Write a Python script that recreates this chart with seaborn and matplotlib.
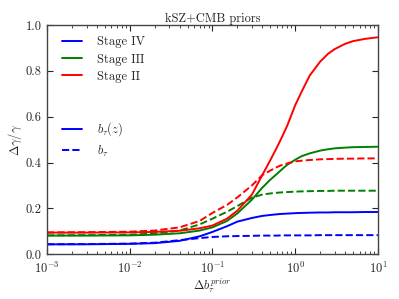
import matplotlib
matplotlib.use("Agg")
import matplotlib.pyplot as plt
import seaborn as sns
import pandas as pd

# prior width on b_tau
prior = [1e-3, 3e-3, 1e-2, 2e-2, 4e-2, 7e-2, 0.1, 0.15, 0.2, 0.3, 0.4,
         0.5, 0.6, 0.7, 0.8, 1.0, 1.2, 1.5, 2.0, 2.5, 3.0, 4.0, 5.0, 7.0, 10.0]

# Delta gamma / gamma, b_tau(z) (solid) and b_tau (dashed)
stage4_z = [0.043, 0.043, 0.045, 0.048, 0.058, 0.078, 0.097, 0.122, 0.142, 0.158,
            0.167, 0.171, 0.174, 0.176, 0.177, 0.179, 0.180, 0.181, 0.182, 0.182,
            0.183, 0.183, 0.183, 0.184, 0.184]
stage4_c = [0.043, 0.044, 0.046, 0.050, 0.061, 0.070, 0.075, 0.078, 0.079, 0.080,
            0.081, 0.081, 0.081, 0.082, 0.082, 0.082, 0.082, 0.082, 0.083, 0.083,
            0.083, 0.083, 0.083, 0.083, 0.083]
stage3_z = [0.081, 0.081, 0.082, 0.085, 0.091, 0.103, 0.117, 0.145, 0.178, 0.238,
            0.290, 0.325, 0.350, 0.372, 0.390, 0.412, 0.428, 0.440, 0.452, 0.458,
            0.462, 0.465, 0.467, 0.468, 0.469]
stage3_c = [0.082, 0.083, 0.085, 0.090, 0.103, 0.130, 0.155, 0.185, 0.210, 0.247,
            0.260, 0.265, 0.268, 0.270, 0.271, 0.273, 0.274, 0.275, 0.276, 0.276,
            0.277, 0.277, 0.277, 0.277, 0.277]
stage2_z = [0.094, 0.094, 0.095, 0.097, 0.102, 0.113, 0.125, 0.155, 0.190, 0.260,
            0.345, 0.410, 0.465, 0.515, 0.560, 0.650, 0.710, 0.780, 0.840, 0.875,
            0.895, 0.918, 0.930, 0.940, 0.947]
stage2_c = [0.095, 0.096, 0.098, 0.103, 0.117, 0.145, 0.180, 0.215, 0.248, 0.300,
            0.345, 0.365, 0.380, 0.390, 0.396, 0.405, 0.408, 0.411, 0.414, 0.415,
            0.416, 0.417, 0.417, 0.418, 0.418]

sns.set_style("ticks")
plt.rcParams['font.family'] = 'serif'
plt.rcParams['font.serif'] = ['cmr10', 'DejaVu Serif']
plt.rcParams['mathtext.fontset'] = 'cm'
plt.rcParams['axes.formatter.use_mathtext'] = True
plt.rcParams['axes.unicode_minus'] = False

fig = plt.figure(figsize=(3.99, 2.99), dpi=100)
ax = fig.add_axes([0.118, 0.150, 0.829, 0.766])

series = [
    (stage4_z, 'b', '-'), (stage4_c, 'b', '--'),
    (stage3_z, 'g', '-'), (stage3_c, 'g', '--'),
    (stage2_z, 'r', '-'), (stage2_c, 'r', '--'),
]
for vals, col, ls in series:
    df = pd.DataFrame({'prior': prior, 'dg': vals})
    sns.lineplot(data=df, x='prior', y='dg', ax=ax, color=col, linestyle=ls,
                 lw=1.4, legend=False)

ax.set_xscale('log')
ax.set_xlim(1e-3, 10)
ax.set_ylim(0, 1.0)
ax.set_yticks([0.0, 0.2, 0.4, 0.6, 0.8, 1.0])
ax.set_yticklabels(['0.0', '0.2', '0.4', '0.6', '0.8', '1.0'])
ax.tick_params(which='both', direction='in', top=True, right=True, labelsize=9)
ax.tick_params(which='major', length=4)
ax.tick_params(which='minor', length=2)
ax.tick_params(axis='x', pad=5)
ax.tick_params(axis='y', pad=4)
for sp in ax.spines.values():
    sp.set_color('#444444')
    sp.set_linewidth(1.0)

ax.set_xlabel(r'$\Delta b_\tau^{prior}$', fontsize=9, labelpad=0)
ax.set_ylabel(r'$\Delta\gamma/\gamma$', fontsize=9, labelpad=1)
ax.set_title('kSZ+CMB priors', fontsize=9, pad=2)

h4, = ax.plot([], [], color='b', lw=1.4)
h3, = ax.plot([], [], color='g', lw=1.4)
h2, = ax.plot([], [], color='r', lw=1.4)
leg1 = ax.legend([h4, h3, h2], ['Stage IV', 'Stage III', 'Stage II'],
                 loc='upper left', bbox_to_anchor=(0.012, 1.0), frameon=False,
                 fontsize=9, handlelength=1.6, handletextpad=1.2, labelspacing=0.4)
ax.add_artist(leg1)
hz, = ax.plot([], [], color='b', lw=1.4, ls='-')
hc, = ax.plot([], [], color='b', lw=1.4, ls='--')
ax.legend([hz, hc], [r'$b_\tau(z)$', r'$b_\tau$'], loc='center left',
          bbox_to_anchor=(0.012, 0.5), frameon=False, fontsize=9,
          handlelength=1.6, handletextpad=1.2, labelspacing=0.4)

fig.savefig('out.png', dpi=100)
